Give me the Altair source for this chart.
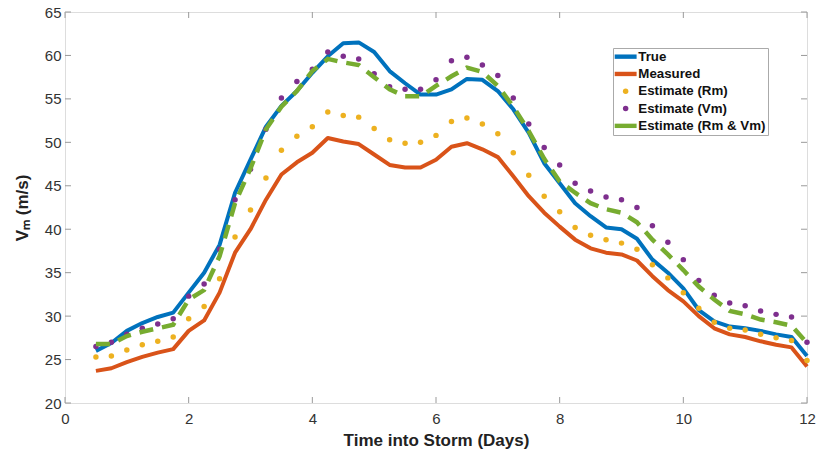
import altair as alt
import pandas as pd

days = [0.5, 0.75, 1.0, 1.25, 1.5, 1.75, 2.0, 2.25, 2.5, 2.75, 3.0, 3.25, 3.5, 3.75,
        4.0, 4.25, 4.5, 4.75, 5.0, 5.25, 5.5, 5.75, 6.0, 6.25, 6.5, 6.75, 7.0, 7.25,
        7.5, 7.75, 8.0, 8.25, 8.5, 8.75, 9.0, 9.25, 9.5, 9.75, 10.0, 10.25, 10.5,
        10.75, 11.0, 11.25, 11.5, 11.75, 12.0]

true_vals = [26.0, 26.9, 28.3, 29.2, 29.9, 30.4, 32.7, 35.0, 38.2, 44.2, 48.0, 51.8,
             54.2, 55.9, 58.0, 59.9, 61.4, 61.5, 60.4, 58.2, 56.8, 55.5, 55.5, 56.1,
             57.3, 57.2, 55.9, 53.8, 51.1, 47.6, 45.3, 43.0, 41.5, 40.2, 40.0, 38.9,
             36.5, 35.0, 33.2, 30.7, 29.4, 28.8, 28.6, 28.3, 27.9, 27.6, 25.4]
measured_vals = [23.7, 24.0, 24.7, 25.3, 25.8, 26.2, 28.3, 29.5, 32.7, 37.3, 40.0, 43.4,
                 46.3, 47.7, 48.8, 50.5, 50.1, 49.8, 48.6, 47.4, 47.1, 47.1, 48.0, 49.5,
                 49.9, 49.2, 48.3, 46.1, 43.8, 41.9, 40.3, 38.8, 37.8, 37.3, 37.1, 36.4,
                 34.6, 33.0, 31.7, 30.0, 28.6, 27.9, 27.6, 27.1, 26.7, 26.4, 24.2]
rm_vals = [25.3, 25.4, 26.1, 26.7, 27.1, 27.6, 29.7, 31.1, 34.3, 39.1, 42.2, 45.9,
           49.1, 50.7, 51.8, 53.5, 53.1, 52.9, 51.6, 50.3, 49.9, 50.0, 50.8, 52.4,
           52.8, 52.1, 51.0, 48.8, 46.2, 43.8, 42.0, 40.2, 39.3, 38.8, 38.4, 37.7,
           35.9, 34.4, 32.7, 30.9, 29.3, 28.6, 28.4, 27.9, 27.5, 27.2, 24.9]
vm_vals = [26.5, 27.0, 27.9, 28.6, 29.1, 29.7, 32.3, 33.7, 37.7, 43.4, 46.9, 51.5,
           55.1, 57.0, 58.4, 60.4, 59.9, 59.6, 57.9, 56.4, 56.1, 56.1, 57.2, 59.4,
           59.8, 58.9, 57.7, 55.1, 52.1, 49.4, 47.4, 45.3, 44.4, 43.7, 43.4, 42.5,
           40.4, 38.5, 36.5, 34.1, 32.4, 31.5, 31.2, 30.6, 30.2, 29.9, 27.0]
rmvm_vals = [26.8, 26.8, 27.7, 28.2, 28.6, 29.0, 31.9, 33.0, 36.9, 43.0, 47.0, 51.5,
             54.1, 55.9, 58.2, 59.6, 59.2, 58.9, 57.5, 56.1, 55.3, 55.3, 56.5, 57.6,
             58.6, 58.1, 56.5, 54.1, 51.3, 48.1, 45.5, 44.2, 43.0, 42.3, 41.9, 40.8,
             38.8, 37.1, 35.3, 33.4, 31.9, 30.6, 30.2, 29.6, 29.3, 28.9, 26.9]

series_names = ["True", "Measured", "Estimate (Rm)", "Estimate (Vm)", "Estimate (Rm & Vm)"]
series_colors = ["#0072BD", "#D95319", "#EDB120", "#7E2F8E", "#77AC30"]
line_names = ["True", "Measured", "Estimate (Rm & Vm)"]
line_colors = ["#0072BD", "#D95319", "#77AC30"]
x_ticks = [0, 2, 4, 6, 8, 10, 12]
y_ticks = [20, 25, 30, 35, 40, 45, 50, 55, 60, 65]

# legend symbols: a short thick bar for line series, a dot for marker series
BAR_PATH = "M-4,-0.8H4V0.8H-4Z"
legend_shapes = [BAR_PATH, BAR_PATH, "circle", "circle", BAR_PATH]

rows = []
for name, vals in zip(series_names, [true_vals, measured_vals, rm_vals, vm_vals, rmvm_vals]):
    for d, v in zip(days, vals):
        rows.append({"day": d, "v": v, "series": name})
df = pd.DataFrame(rows)
xt = pd.DataFrame({"t": x_ticks})
yt = pd.DataFrame({"t": y_ticks})

W, H = 742, 391
FONT = "Liberation Sans"
xscale = alt.Scale(domain=[0, 12], nice=False, zero=False, padding=0)
yscale = alt.Scale(domain=[20, 65], nice=False, zero=False, padding=0)

x_enc = alt.X("day:Q", scale=xscale, axis=alt.Axis(
    values=x_ticks, format="d", domain=False, ticks=False, grid=False, labelFont=FONT,
    labelFontSize=15, labelColor="#333333", labelPadding=8, labelFlush=False,
    title="Time into Storm (Days)", titleFont=FONT, titleFontSize=17,
    titleFontWeight="bold", titleColor="#222222", titlePadding=6))
y_enc = alt.Y("v:Q", scale=yscale, axis=alt.Axis(
    values=y_ticks, format="d", domain=False, ticks=False, grid=False, labelFont=FONT,
    labelFontSize=15, labelColor="#333333", labelPadding=4, labelFlush=False,
    title="Vₘ (m/s)", titleFont=FONT, titleFontSize=17,
    titleFontWeight="bold", titleColor="#222222", titlePadding=13))

line_scale = alt.Scale(domain=line_names, range=line_colors)

base = alt.Chart(df)

solid = base.transform_filter(
    alt.FieldOneOfPredicate(field="series", oneOf=["True", "Measured"])
).mark_line(strokeWidth=4, strokeJoin="round").encode(
    x=x_enc, y=y_enc,
    color=alt.Color("series:N", scale=line_scale, legend=None),
    detail="series:N",
)

leg = alt.Legend(
    title=None, orient="none", legendX=548, legendY=36,
    labelFont=FONT, labelFontSize=13.3, labelFontWeight="bold", labelColor="#111111",
    symbolSize=30, symbolStrokeWidth=0, symbolOffset=4, labelOffset=6,
    rowPadding=3.3, padding=2, strokeColor="#aaaaaa", fillColor="#ffffff",
    symbolOpacity=1,
)

pts = base.transform_filter(
    alt.FieldOneOfPredicate(field="series", oneOf=["Estimate (Rm)", "Estimate (Vm)"])
).mark_point(filled=True, size=30, strokeWidth=0, opacity=1).encode(
    x=x_enc, y=y_enc,
    fill=alt.Fill("series:N", scale=alt.Scale(domain=series_names, range=series_colors), legend=leg),
    shape=alt.Shape("series:N", scale=alt.Scale(domain=series_names, range=legend_shapes), legend=leg),
)

dashed = base.transform_filter(
    alt.FieldEqualPredicate(field="series", equal="Estimate (Rm & Vm)")
).mark_line(strokeWidth=4.5, strokeDash=[14, 9]).encode(
    x=x_enc, y=y_enc,
    color=alt.Color("series:N", scale=line_scale, legend=None),
)

TICK = "#9a9a9a"
xb = alt.Chart(xt).mark_rule(color=TICK).encode(
    x=alt.X("t:Q", scale=xscale), y=alt.value(H), y2=alt.value(H - 6))
xtop = alt.Chart(xt).mark_rule(color=TICK).encode(
    x=alt.X("t:Q", scale=xscale), y=alt.value(0), y2=alt.value(6))
yl = alt.Chart(yt).mark_rule(color=TICK).encode(
    y=alt.Y("t:Q", scale=yscale), x=alt.value(0), x2=alt.value(6))
yr = alt.Chart(yt).mark_rule(color=TICK).encode(
    y=alt.Y("t:Q", scale=yscale), x=alt.value(W), x2=alt.value(W - 6))

chart = alt.layer(xb, xtop, yl, yr, solid, pts, dashed).properties(
    width=W, height=H,
    autosize=alt.AutoSizeParams(type="none"),
    padding={"left": 65, "top": 12, "right": 10, "bottom": 52},
).configure_view(stroke="#a6a6a6", strokeWidth=1).configure(background="white")

chart.save("out.html", embed_options={"renderer": "svg", "actions": False})
